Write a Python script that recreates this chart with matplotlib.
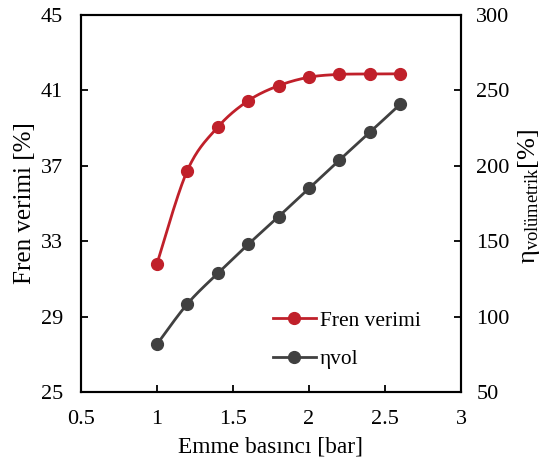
import numpy as np
import matplotlib
matplotlib.use('Agg')
from matplotlib import pyplot as plt
from matplotlib.lines import Line2D

plt.rcParams['font.family'] = ['Liberation Serif', 'DejaVu Serif']
plt.rcParams['mathtext.fontset'] = 'custom'
plt.rcParams['mathtext.rm'] = 'Liberation Serif'
plt.rcParams['mathtext.it'] = 'Liberation Serif'

# emme basinci [bar]
basinc = [1.0, 1.2, 1.4, 1.6, 1.8, 2.0, 2.2, 2.4, 2.6]
# fren verimi [%]
fren_verimi = [31.8, 36.75, 39.05, 40.45, 41.25, 41.7, 41.85, 41.87, 41.88]
# volumetrik verim [%]
eta_vol = [81.6, 108.4, 128.7, 147.9, 166.3, 185.1, 203.8, 222.2, 240.8]

RED = '#C0202A'
GRAY = '#404040'


def smooth(x, y, n=30):
    # bezier egrisi ile yumusatilmis cizgi (catmull-rom kontrol noktalari)
    x = np.asarray(x, float)
    y = np.asarray(y, float)
    px = np.concatenate([[x[0]], x, [x[-1]]])
    py = np.concatenate([[y[0]], y, [y[-1]]])
    xs, ys = [], []
    t = np.linspace(0, 1, n)
    for i in range(1, len(px) - 2):
        p0 = np.array([px[i], py[i]])
        p3 = np.array([px[i + 1], py[i + 1]])
        p1 = p0 + (np.array([px[i + 1], py[i + 1]]) - np.array([px[i - 1], py[i - 1]])) / 6
        p2 = p3 - (np.array([px[i + 2], py[i + 2]]) - np.array([px[i], py[i]])) / 6
        b = ((1 - t) ** 3)[:, None] * p0 + (3 * (1 - t) ** 2 * t)[:, None] * p1 \
            + (3 * (1 - t) * t ** 2)[:, None] * p2 + (t ** 3)[:, None] * p3
        xs.extend(b[:, 0])
        ys.extend(b[:, 1])
    return xs, ys


fig = plt.figure(figsize=(5.43, 4.62), dpi=100)
ax = fig.add_axes([0.149, 0.1515, 0.70, 0.816])
ax2 = ax.twinx()

sx, sy = smooth(basinc, fren_verimi)
ax.plot(sx, sy, color=RED, lw=2)
ax.plot(basinc, fren_verimi, 'o', color=RED, ms=8.5)

sx, sy = smooth(basinc, eta_vol)
ax2.plot(sx, sy, color=GRAY, lw=2)
ax2.plot(basinc, eta_vol, 'o', color=GRAY, ms=8.5)

ax.set_xlim(0.5, 3)
ax.set_ylim(25, 45)
ax.set_xticks([0.5, 1, 1.5, 2, 2.5, 3])
ax.set_xticklabels(['0.5', '1', '1.5', '2', '2.5', '3'])
ax.set_yticks([25, 29, 33, 37, 41, 45])
ax2.set_ylim(50, 300)
ax2.set_yticks([50, 100, 150, 200, 250, 300])

for a in (ax, ax2):
    a.tick_params(direction='in', length=5, width=1.3, labelsize=16, colors='black')
    for s in a.spines.values():
        s.set_linewidth(1.5)
ax.tick_params(axis='x', pad=13)
ax.tick_params(axis='y', pad=13)
ax2.tick_params(axis='y', pad=11)

ax.set_xlabel('Emme basıncı [bar]', fontsize=16.8, labelpad=5)
ax.set_ylabel('Fren verimi [%]', fontsize=18, labelpad=3)
ax2.set_ylabel(r'$\mathregular{\eta_{volümetrik}[\%]}$', fontsize=19)
ax2.yaxis.set_label_coords(1.145, 0.52)

handles = [
    Line2D([], [], color=RED, lw=2, marker='o', ms=8.5),
    Line2D([], [], color=GRAY, lw=2, marker='o', ms=8.5),
]
ax.legend(handles, ['Fren verimi', 'ηvol'], loc='upper left',
          bbox_to_anchor=(0.505, 0.215), frameon=False, fontsize=15.4,
          handlelength=2.0, handletextpad=0.2, labelspacing=0.85,
          borderpad=0, borderaxespad=0)

fig.savefig('out.png', dpi=100)
